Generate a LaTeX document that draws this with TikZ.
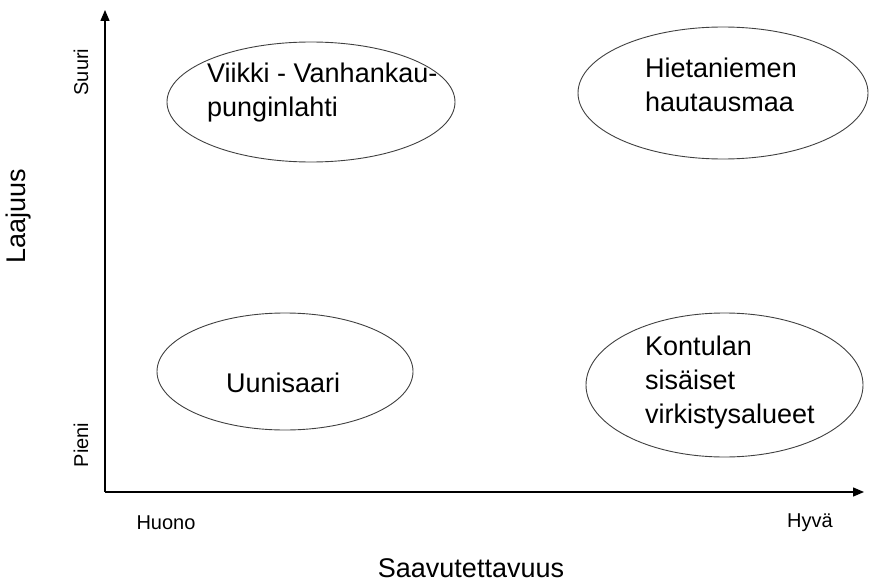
\documentclass[tikz,border=0pt]{standalone}
\usepackage{fontspec}
\setmainfont{Liberation Sans}
\usetikzlibrary{shapes.geometric,arrows.meta}
\begin{document}
\begin{tikzpicture}[x=1pt,y=-1pt,
  area/.style={draw=black!75,line width=0.9pt,ellipse,inner sep=0pt},
  bigtext/.style={font=\fontsize{27}{34}\selectfont,align=left,inner sep=0pt,anchor=base west},
  ticktext/.style={font=\fontsize{20}{24}\selectfont,inner sep=0pt},
  axis/.style={line width=1.3pt,-{Triangle[length=11pt,width=9pt]}}]
\useasboundingbox (0,0) rectangle (869,583);

% axes
\coordinate (origin) at (105,492);
\coordinate (ytip) at (105,10);
\coordinate (xtip) at (864,492);
\draw[axis] (origin) -- (ytip);
\draw[axis] (origin) -- (xtip);

% areas
\node[area,minimum width=288pt,minimum height=120pt] (viikki) at (311,102) {};
\node[area,minimum width=290pt,minimum height=132pt] (hieta) at (723,93) {};
\node[area,minimum width=256pt,minimum height=117pt] (uuni) at (285,371.5) {};
\node[area,minimum width=277pt,minimum height=144pt] (kontula) at (724.5,385) {};

% area names (base anchor sits on the last line)
\node[bigtext] (viikkitext) at (207,117) {Viikki - Vanhankau-\\punginlahti};
\node[bigtext] (hietatext) at (645,112) {Hietaniemen\\hautausmaa};
\node[bigtext] (uunitext) at (226,392) {Uunisaari};
\node[bigtext] (kontulatext) at (645,423) {Kontulan\\sisäiset\\virkistysalueet};

% axis labels
\node[ticktext,rotate=90] (suuri) at (81,72) {Suuri};
\node[ticktext,rotate=90] (pieni) at (81,445) {Pieni};
\node[ticktext,anchor=base] (huono) at (166,529) {Huono};
\node[ticktext,anchor=base] (hyva) at (810,527) {Hyvä};
\node[font=\fontsize{27}{32}\selectfont,inner sep=0pt,rotate=90] (laajuus) at (19,216) {Laajuus};
\node[font=\fontsize{27}{32}\selectfont,inner sep=0pt,anchor=base] (saav) at (471,577) {Saavutettavuus};
\end{tikzpicture}
\end{document}
